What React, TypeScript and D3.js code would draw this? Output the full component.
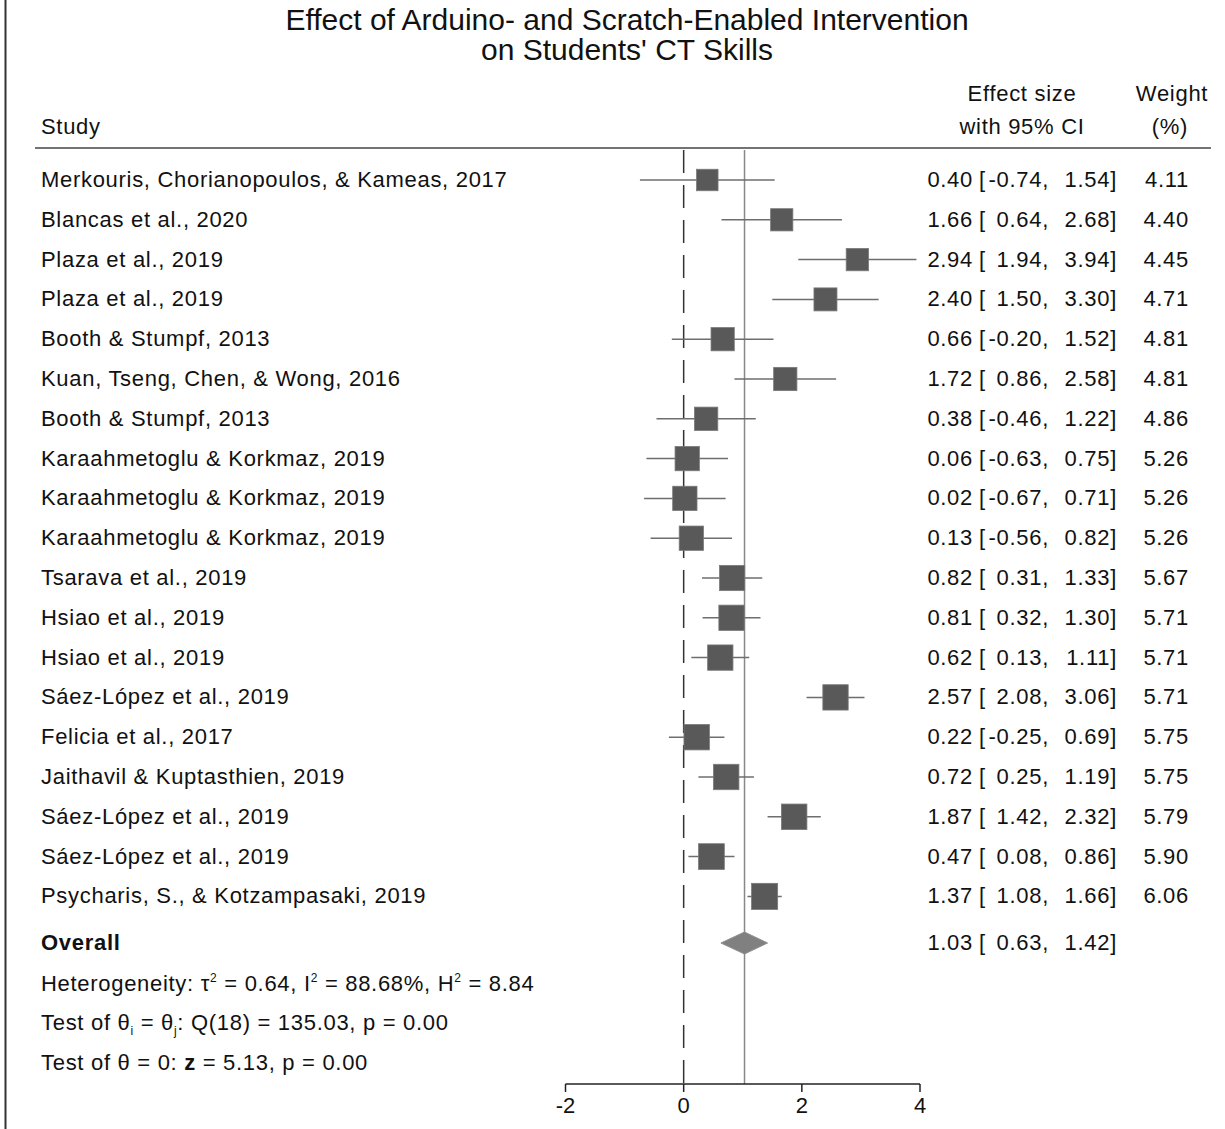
import React from "react";
import * as d3 from "d3";

const studies = [
  "Merkouris, Chorianopoulos, & Kameas, 2017",
  "Blancas et al., 2020",
  "Plaza et al., 2019",
  "Plaza et al., 2019",
  "Booth & Stumpf, 2013",
  "Kuan, Tseng, Chen, & Wong, 2016",
  "Booth & Stumpf, 2013",
  "Karaahmetoglu & Korkmaz, 2019",
  "Karaahmetoglu & Korkmaz, 2019",
  "Karaahmetoglu & Korkmaz, 2019",
  "Tsarava et al., 2019",
  "Hsiao et al., 2019",
  "Hsiao et al., 2019",
  "Sáez-López et al., 2019",
  "Felicia et al., 2017",
  "Jaithavil & Kuptasthien, 2019",
  "Sáez-López et al., 2019",
  "Sáez-López et al., 2019",
  "Psycharis, S., & Kotzampasaki, 2019",
];
const effects = [0.40, 1.66, 2.94, 2.40, 0.66, 1.72, 0.38, 0.06, 0.02, 0.13, 0.82, 0.81, 0.62, 2.57, 0.22, 0.72, 1.87, 0.47, 1.37];
const lowers = [-0.74, 0.64, 1.94, 1.50, -0.20, 0.86, -0.46, -0.63, -0.67, -0.56, 0.31, 0.32, 0.13, 2.08, -0.25, 0.25, 1.42, 0.08, 1.08];
const uppers = [1.54, 2.68, 3.94, 3.30, 1.52, 2.58, 1.22, 0.75, 0.71, 0.82, 1.33, 1.30, 1.11, 3.06, 0.69, 1.19, 2.32, 0.86, 1.66];
const weights = [4.11, 4.40, 4.45, 4.71, 4.81, 4.81, 4.86, 5.26, 5.26, 5.26, 5.67, 5.71, 5.71, 5.71, 5.75, 5.75, 5.79, 5.90, 6.06];
const overall = { es: 1.03, lo: 0.63, hi: 1.42 };
const xTicks = [-2, 0, 2, 4];

const FONT = "'Liberation Sans', Arial, Helvetica, sans-serif";

export default function App() {
  const W = 1225, H = 1129;
  const x = d3.scaleLinear().domain([-2, 4]).range([565.5, 920]);
  const y = d3.scaleLinear().domain([0, studies.length - 1]).range([180, 896.4]);
  const size = d3.scaleSqrt().domain([0, 1]).range([0, 10.6]);
  const yOverall = 943;
  const topY = 148;
  const axisY = 1084;
  const fmt = (v: number) => v.toFixed(2);
  const txt = "#111";
  const fs = 22;
  const ls = 0.7;

  const diamond = [
    [x(overall.lo), yOverall],
    [x(overall.es), yOverall - 11],
    [x(overall.hi), yOverall],
    [x(overall.es), yOverall + 11],
  ];

  const statRow = (yy: number, key: string, es: number, lo: number, hi: number, w?: number) => (
    <g key={key} fontSize={fs} fill={txt} letterSpacing={ls}>
      <text x={973} y={yy + 7} textAnchor="end">{fmt(es)}</text>
      <text x={979} y={yy + 7}>[</text>
      <text x={1049} y={yy + 7} textAnchor="end">{fmt(lo) + ","}</text>
      <text x={1117} y={yy + 7} textAnchor="end">{fmt(hi) + "]"}</text>
      {w !== undefined && <text x={1189} y={yy + 7} textAnchor="end">{fmt(w)}</text>}
    </g>
  );

  return (
    <svg width={W} height={H} style={{ position: "absolute", left: 0, top: 0, background: "#fff" }} fontFamily={FONT}>
      <rect x={0} y={0} width={W} height={H} fill="#fff" />
      <line x1={5.5} x2={5.5} y1={0} y2={H} stroke="#333" strokeWidth={2} />

      <text x={627} y={30} textAnchor="middle" fontSize={30} fill={txt}>Effect of Arduino- and Scratch-Enabled Intervention</text>
      <text x={627} y={60} textAnchor="middle" fontSize={30} fill={txt}>on Students' CT Skills</text>

      <g fontSize={fs} fill={txt} letterSpacing={ls}>
        <text x={41} y={134}>Study</text>
        <text x={1022} y={101} textAnchor="middle">Effect size</text>
        <text x={1022} y={134} textAnchor="middle">with 95% CI</text>
        <text x={1172} y={101} textAnchor="middle">Weight</text>
        <text x={1170} y={134} textAnchor="middle">(%)</text>
      </g>
      <line x1={35} x2={1211} y1={topY} y2={topY} stroke="#444" strokeWidth={1.5} />

      <line x1={x(0)} x2={x(0)} y1={topY + 2} y2={axisY} stroke="#333" strokeWidth={1.5} strokeDasharray="23 12" />
      <line x1={x(overall.es)} x2={x(overall.es)} y1={topY + 2} y2={axisY} stroke="#888" strokeWidth={1.5} />

      {studies.map((s, i) => {
        const yy = y(i);
        const sz = size(weights[i]);
        return (
          <g key={i}>
            <text x={41} y={yy + 7} fontSize={fs} fill={txt} letterSpacing={ls}>{s}</text>
            <line x1={x(lowers[i])} x2={x(uppers[i])} y1={yy} y2={yy} stroke="#6e6e6e" strokeWidth={1.5} />
            <rect x={x(effects[i]) - sz / 2} y={yy - sz / 2} width={sz} height={sz} fill="#595959" stroke="#7a7a7a" strokeWidth={0.8} />
            {statRow(yy, "r" + i, effects[i], lowers[i], uppers[i], weights[i])}
          </g>
        );
      })}

      <text x={41} y={yOverall + 7} fontSize={fs} fontWeight="bold" fill={txt} letterSpacing={ls}>Overall</text>
      <path d={d3.line()(diamond as [number, number][]) + "Z"} fill="#808080" stroke="#909090" strokeWidth={1} />
      {statRow(yOverall, "overall", overall.es, overall.lo, overall.hi)}

      <g fontSize={fs} fill={txt} letterSpacing={ls}>
        <text x={41} y={984 + 7}>
          Heterogeneity: τ<tspan fontSize={12} dy={-9}>2</tspan>
          <tspan dy={9}> = 0.64, I</tspan><tspan fontSize={12} dy={-9}>2</tspan>
          <tspan dy={9}> = 88.68%, H</tspan><tspan fontSize={12} dy={-9}>2</tspan>
          <tspan dy={9}> = 8.84</tspan>
        </text>
        <text x={41} y={1023 + 7}>
          Test of θ<tspan fontSize={12} dy={5}>i</tspan>
          <tspan dy={-5}> = θ</tspan><tspan fontSize={12} dy={5}>j</tspan>
          <tspan dy={-5}>: Q(18) = 135.03, p = 0.00</tspan>
        </text>
        <text x={41} y={1063 + 7}>
          Test of θ = 0: <tspan fontWeight="bold">z</tspan> = 5.13, p = 0.00
        </text>
      </g>

      <line x1={x(-2)} x2={x(4)} y1={axisY} y2={axisY} stroke="#222" strokeWidth={1.5} />
      {xTicks.map((t) => (
        <g key={t}>
          <line x1={x(t)} x2={x(t)} y1={axisY} y2={axisY + 8} stroke="#222" strokeWidth={1.5} />
          <text x={x(t)} y={axisY + 29} textAnchor="middle" fontSize={fs} fill={txt}>{t}</text>
        </g>
      ))}
    </svg>
  );
}
